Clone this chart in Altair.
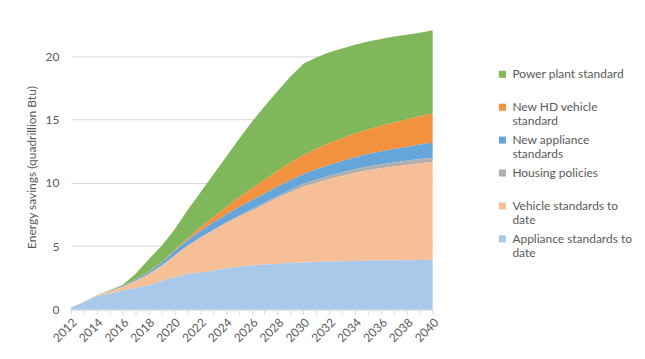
import altair as alt
import pandas as pd

# ---------------- data ----------------
years = list(range(2012, 2041))

appliance_to_date = [0.15, 0.58, 1.05, 1.26, 1.49, 1.70, 1.91, 2.23, 2.54, 2.80, 2.93, 3.06, 3.25, 3.38, 3.48,
                     3.56, 3.62, 3.67, 3.72, 3.76, 3.79, 3.81, 3.83, 3.85, 3.87, 3.89, 3.90, 3.92, 3.93]
vehicle_to_date = [0.00, 0.04, 0.07, 0.18, 0.29, 0.53, 0.84, 1.17, 1.65, 2.17, 2.68, 3.15, 3.53, 3.92, 4.32,
                   4.74, 5.18, 5.58, 5.98, 6.24, 6.51, 6.74, 6.97, 7.15, 7.28, 7.41, 7.52, 7.63, 7.72]
housing = [0.00, 0.00, 0.00, 0.01, 0.02, 0.03, 0.04, 0.05, 0.06, 0.06, 0.07, 0.08, 0.09, 0.10, 0.11,
           0.13, 0.15, 0.19, 0.23, 0.25, 0.26, 0.27, 0.28, 0.29, 0.30, 0.31, 0.32, 0.33, 0.34]
new_appliance = [0.00, 0.00, 0.00, 0.02, 0.06, 0.10, 0.16, 0.25, 0.35, 0.42, 0.50, 0.57, 0.62, 0.67, 0.71,
                 0.74, 0.76, 0.77, 0.78, 0.82, 0.86, 0.90, 0.94, 0.98, 1.02, 1.06, 1.10, 1.14, 1.18]
new_hd_vehicle = [0.00, 0.00, 0.00, 0.00, 0.00, 0.01, 0.03, 0.04, 0.06, 0.15, 0.30, 0.42, 0.59, 0.78, 0.93,
                  1.08, 1.24, 1.39, 1.49, 1.62, 1.72, 1.80, 1.88, 1.95, 2.02, 2.10, 2.16, 2.23, 2.30]
power_plant = [0.00, 0.00, 0.02, 0.05, 0.09, 0.43, 0.95, 1.26, 1.62, 2.20, 2.72, 3.35, 3.95, 4.60, 5.25,
               5.80, 6.30, 6.80, 7.20, 7.21, 7.16, 7.08, 7.00, 6.93, 6.86, 6.78, 6.70, 6.60, 6.58]

# legend order (top to bottom); stack order is the reverse
series_names = ["Power plant standard", "New HD vehicle standard", "New appliance standards",
                "Housing policies", "Vehicle standards to date", "Appliance standards to date"]
series_values = [power_plant, new_hd_vehicle, new_appliance, housing, vehicle_to_date, appliance_to_date]
legend_lines = [["Power plant standard", ""], ["New HD vehicle", "standard"], ["New appliance", "standards"],
                ["Housing policies", ""], ["Vehicle standards to", "date"], ["Appliance standards to", "date"]]
y_ticks = [0, 5, 10, 15, 20]

# ---------------- styles ----------------
series_colors = ["#7fb75a", "#f2923f", "#66a5da", "#afafaf", "#f6bf98", "#a9c9ea"]
FONT = "Lato"
GRAY = "#595959"
GRID = "#d9d9d9"
W, H = 363, 286
Y_MAX = 22.5

rows = []
for n, (name, vals) in enumerate(zip(series_names, series_values)):
    for yr, v in zip(years, vals):
        rows.append({"year": yr, "series": name, "value": v, "idx": len(series_names) - 1 - n})
df = pd.DataFrame(rows)

label_expr = ""
for name, lines in zip(series_names, legend_lines):
    label_expr += "datum.label == '%s' ? ['%s', '%s'] : " % (name, lines[0], lines[1])
label_expr += "datum.label"

x_enc = alt.X("year:Q", scale=alt.Scale(domain=[2012, 2040], nice=False, zero=False),
              axis=alt.Axis(values=years, labelExpr="datum.value % 2 == 0 ? datum.label : ''",
                            format="d", labelAngle=-45, labelColor=GRAY, labelFont=FONT, labelFontSize=12,
                            labelOverlap=False, grid=False, domainColor=GRID, tickColor=GRID, tickSize=5,
                            labelPadding=2, title=None))
y_scale = alt.Scale(domain=[0, Y_MAX], nice=False)
y_axis = alt.Axis(values=y_ticks, title="Energy savings (quadrillion Btu)", titleFont=FONT,
                  titleFontSize=12, titleFontWeight="normal", titleColor=GRAY, labelColor=GRAY,
                  labelFont=FONT, labelFontSize=12, domain=False, ticks=False, gridColor=GRID,
                  labelPadding=12, titlePadding=6)

chart = alt.Chart(df).mark_area(interpolate="linear", opacity=1).encode(
    x=x_enc,
    y=alt.Y("value:Q", stack="zero", scale=y_scale, axis=y_axis),
    fill=alt.Fill("series:N", scale=alt.Scale(domain=series_names, range=series_colors),
                  legend=alt.Legend(title=None, orient="none", legendX=427, legendY=44,
                                    symbolType="square", symbolSize=50, symbolStrokeWidth=0,
                                    labelFont=FONT, labelFontSize=12, labelColor=GRAY,
                                    labelExpr=label_expr, rowPadding=7, labelOffset=4,
                                    labelLimit=300, padding=0)),
    order=alt.Order("idx:Q", sort="ascending"),
).properties(
    width=W, height=H, padding={"left": 18, "top": 16, "right": 5, "bottom": 5}, background="white"
).configure_view(stroke=None)

chart.save("out.html", embed_options={"renderer": "svg", "actions": False})
